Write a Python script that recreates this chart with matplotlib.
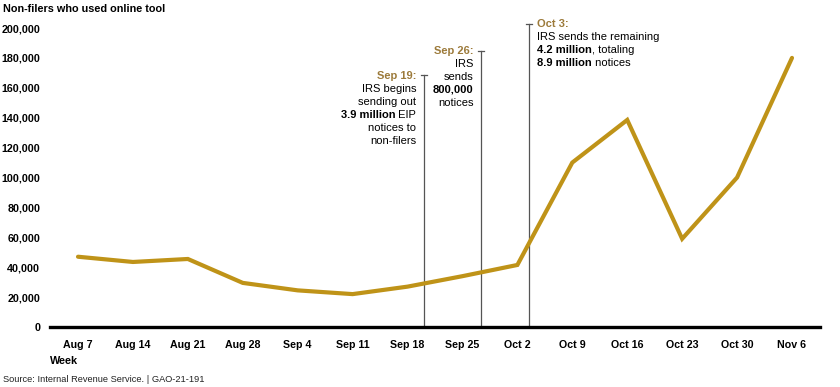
import matplotlib
matplotlib.use("Agg")
import matplotlib.pyplot as plt
import matplotlib.transforms as mt

plt.rcParams['font.family'] = ['Liberation Sans', 'DejaVu Sans']

weeks = ["Aug 7", "Aug 14", "Aug 21", "Aug 28", "Sep 4", "Sep 11", "Sep 18",
         "Sep 25", "Oct 2", "Oct 9", "Oct 16", "Oct 23", "Oct 30", "Nov 6"]
users = [47000, 43500, 45500, 29500, 24500, 22000, 27000,
         34000, 41500, 110000, 138500, 59000, 100000, 180000]
yticks = [0, 20000, 40000, 60000, 80000, 100000, 120000, 140000, 160000, 180000, 200000]

# event markers: position (in week-index units), top of line (value)
event_pos = [6.30, 7.34, 8.21]
event_top = [168500, 184500, 203000]

LINE = '#BF9318'
GOLD = '#9C7A3A'
GRAY = '#555555'

fig = plt.figure(figsize=(8.4, 3.87), dpi=100)
ax = fig.add_axes([50/840, 1-327/387, 770/840, 299/387])

x = list(range(len(weeks)))
ax.plot(x, users, color=LINE, lw=3.0, solid_capstyle='round', solid_joinstyle='miter', zorder=3)

ax.set_xlim(-0.51, 13.51)
ax.set_ylim(0, 200000)
for s in ['top', 'right', 'left']:
    ax.spines[s].set_visible(False)
ax.spines['bottom'].set_linewidth(2.4)
ax.spines['bottom'].set_color('black')
ax.set_xticks(x)
ax.set_xticklabels(weeks, fontsize=7.7, fontweight='bold')
ax.set_yticks(yticks)
ax.set_yticklabels([f"{v:,}" for v in yticks], fontsize=7.7, fontweight='bold')
ax.tick_params(axis='both', length=0)
ax.tick_params(axis='x', pad=9)
ax.tick_params(axis='y', pad=7)

# event lines
for p, t in zip(event_pos, event_top):
    ax.plot([p, p], [0, t], color=GRAY, lw=0.9, clip_on=False, zorder=2)
    ax.plot([p - 0.05, p + 0.05], [t, t], color=GRAY, lw=0.9, clip_on=False, zorder=2)

FS = 8.0

def line_parts(xpos, ypix_from_top, parts, ha):
    """parts: list of (text, bold, colour). ypix in figure pixels from top."""
    yfig = 1 - ypix_from_top/387
    blend = mt.blended_transform_factory(ax.transData, fig.transFigure)
    seq = parts if ha == 'left' else list(reversed(parts))
    anchor = (1, 0) if ha == 'left' else (0, 0)
    prev = None
    for txt, bold, col in seq:
        w = 'bold' if bold else 'normal'
        if prev is None:
            prev = ax.text(xpos, yfig, txt, transform=blend, ha=ha, va='center',
                           fontsize=FS, fontweight=w, color=col)
        else:
            prev = ax.annotate(txt, xy=anchor, xycoords=prev, ha=ha, va='bottom',
                               fontsize=FS, fontweight=w, color=col)

K = 'black'
# Sep 19 block
xs = event_pos[0] - 0.14
line_parts(xs, 76, [("Sep 19:", True, GOLD)], 'right')
line_parts(xs, 89, [("IRS begins", False, K)], 'right')
line_parts(xs, 102, [("sending out", False, K)], 'right')
line_parts(xs, 115, [("3.9 million", True, K), (" EIP", False, K)], 'right')
line_parts(xs, 128, [("notices to", False, K)], 'right')
line_parts(xs, 141, [("non-filers", False, K)], 'right')

# Sep 26 block
xs = event_pos[1] - 0.14
line_parts(xs, 51, [("Sep 26:", True, GOLD)], 'right')
line_parts(xs, 64, [("IRS", False, K)], 'right')
line_parts(xs, 77, [("sends", False, K)], 'right')
line_parts(xs, 90, [("800,000", True, K)], 'right')
line_parts(xs, 103, [("notices", False, K)], 'right')

# Oct 3 block
xs = event_pos[2] + 0.15
line_parts(xs, 24, [("Oct 3:", True, GOLD)], 'left')
line_parts(xs, 37, [("IRS sends the remaining", False, K)], 'left')
line_parts(xs, 50, [("4.2 million", True, K), (", totaling", False, K)], 'left')
line_parts(xs, 63, [("8.9 million", True, K), (" notices", False, K)], 'left')

fig.text(3/840, 1-9/387, "Non-filers who used online tool", fontsize=7.8, fontweight='bold',
         ha='left', va='center')
fig.text(50/840, 1-361/387, "Week", fontsize=7.8, fontweight='bold', ha='left', va='center')
fig.text(3/840, 1-380/387, "Source: Internal Revenue Service. | GAO-21-191", fontsize=6.7,
         ha='left', va='center', color='#222222')

fig.savefig("out.png", dpi=100)
